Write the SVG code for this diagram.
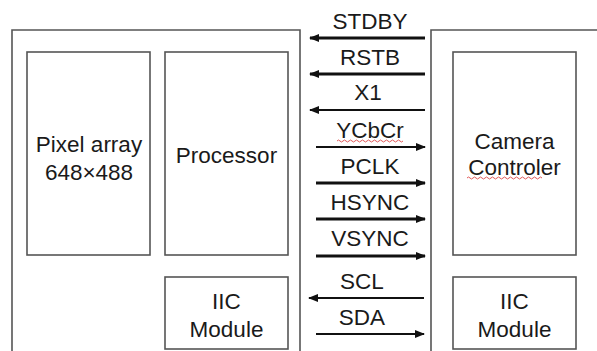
<svg xmlns="http://www.w3.org/2000/svg" width="597" height="351" viewBox="0 0 597 351">
<defs>
<style>
.box{fill:#fff;stroke:#555;stroke-width:1.6}
.frame{fill:none;stroke:#555;stroke-width:1.6}
.t{font-family:"Liberation Sans",Arial,sans-serif;font-size:22.5px;fill:#1a1a1a;text-anchor:middle}
.w3{stroke:#111;stroke-width:3;fill:none}
.w2{stroke:#111;stroke-width:2;fill:none}
.sq{stroke:#e05a5a;stroke-width:1;fill:none}
</style>
<marker id="ah" viewBox="0 0 10 8" refX="9" refY="4" markerWidth="10" markerHeight="8" markerUnits="userSpaceOnUse" orient="auto">
<path d="M0,0 L10,4 L0,8 Z" fill="#111"/>
</marker>
</defs>
<rect width="597" height="351" fill="#fff"/>
<g id="sensor">
<path class="frame" d="M12,360 V30 H300 V360"/>
</g>
<g id="host">
<path class="frame" d="M431,360 V30 H600"/>
</g>
<g id="pixel-array">
<rect class="box" x="27" y="52" width="123" height="203"/>
<text class="t" x="89" y="152">Pixel array</text>
<text class="t" x="89" y="180">648×488</text>
</g>
<g id="processor">
<rect class="box" x="165" y="52" width="123" height="203"/>
<text class="t" x="226.5" y="163">Processor</text>
</g>
<g id="iic-left">
<rect class="box" x="165" y="277" width="123" height="72"/>
<text class="t" x="226.5" y="309">IIC</text>
<text class="t" x="226.5" y="337">Module</text>
</g>
<g id="camera-controler">
<rect class="box" x="453" y="52" width="123" height="203"/>
<text class="t" x="514.5" y="149">Camera</text>
<text class="t" x="514.5" y="175">Controler</text>
<path class="sq" d="M467,178 q1.5,-2 3,0 t3,0 t3,0 t3,0 t3,0 t3,0 t3,0 t3,0 t3,0 t3,0 t3,0 t3,0 t3,0 t3,0 t3,0 t3,0 t3,0 t3,0 t3,0 t3,0 t3,0 t3,0 t3,0 t3,0 t3,0"/>
</g>
<g id="iic-right">
<rect class="box" x="453" y="277" width="123" height="72"/>
<text class="t" x="514.5" y="309">IIC</text>
<text class="t" x="514.5" y="337">Module</text>
</g>
<g id="connectors">
<line class="w3" x1="425" y1="38" x2="310" y2="38" marker-end="url(#ah)"/>
<line class="w3" x1="425" y1="74" x2="310" y2="74" marker-end="url(#ah)"/>
<line class="w2" x1="425" y1="110" x2="310" y2="110" marker-end="url(#ah)"/>
<line class="w2" x1="316" y1="147" x2="425" y2="147" marker-end="url(#ah)"/>
<line class="w3" x1="316" y1="183" x2="425" y2="183" marker-end="url(#ah)"/>
<line class="w3" x1="316" y1="219" x2="425" y2="219" marker-end="url(#ah)"/>
<line class="w3" x1="316" y1="256" x2="425" y2="256" marker-end="url(#ah)"/>
<line class="w2" x1="424" y1="298" x2="309" y2="298" marker-end="url(#ah)"/>
<line class="w2" x1="316" y1="334" x2="424" y2="334" marker-end="url(#ah)"/>
<text class="t" x="370" y="29">STDBY</text>
<text class="t" x="370" y="65">RSTB</text>
<text class="t" x="368" y="100">X1</text>
<text class="t" x="370" y="138">YCbCr</text>
<path class="sq" d="M337,141 q1.5,-2 3,0 t3,0 t3,0 t3,0 t3,0 t3,0 t3,0 t3,0 t3,0 t3,0 t3,0 t3,0 t3,0 t3,0 t3,0 t3,0 t3,0 t3,0 t3,0 t3,0 t3,0 t3,0"/>
<text class="t" x="370" y="174">PCLK</text>
<text class="t" x="370" y="210">HSYNC</text>
<text class="t" x="370" y="246">VSYNC</text>
<text class="t" x="362" y="289">SCL</text>
<text class="t" x="362" y="325">SDA</text>
</g>
</svg>
